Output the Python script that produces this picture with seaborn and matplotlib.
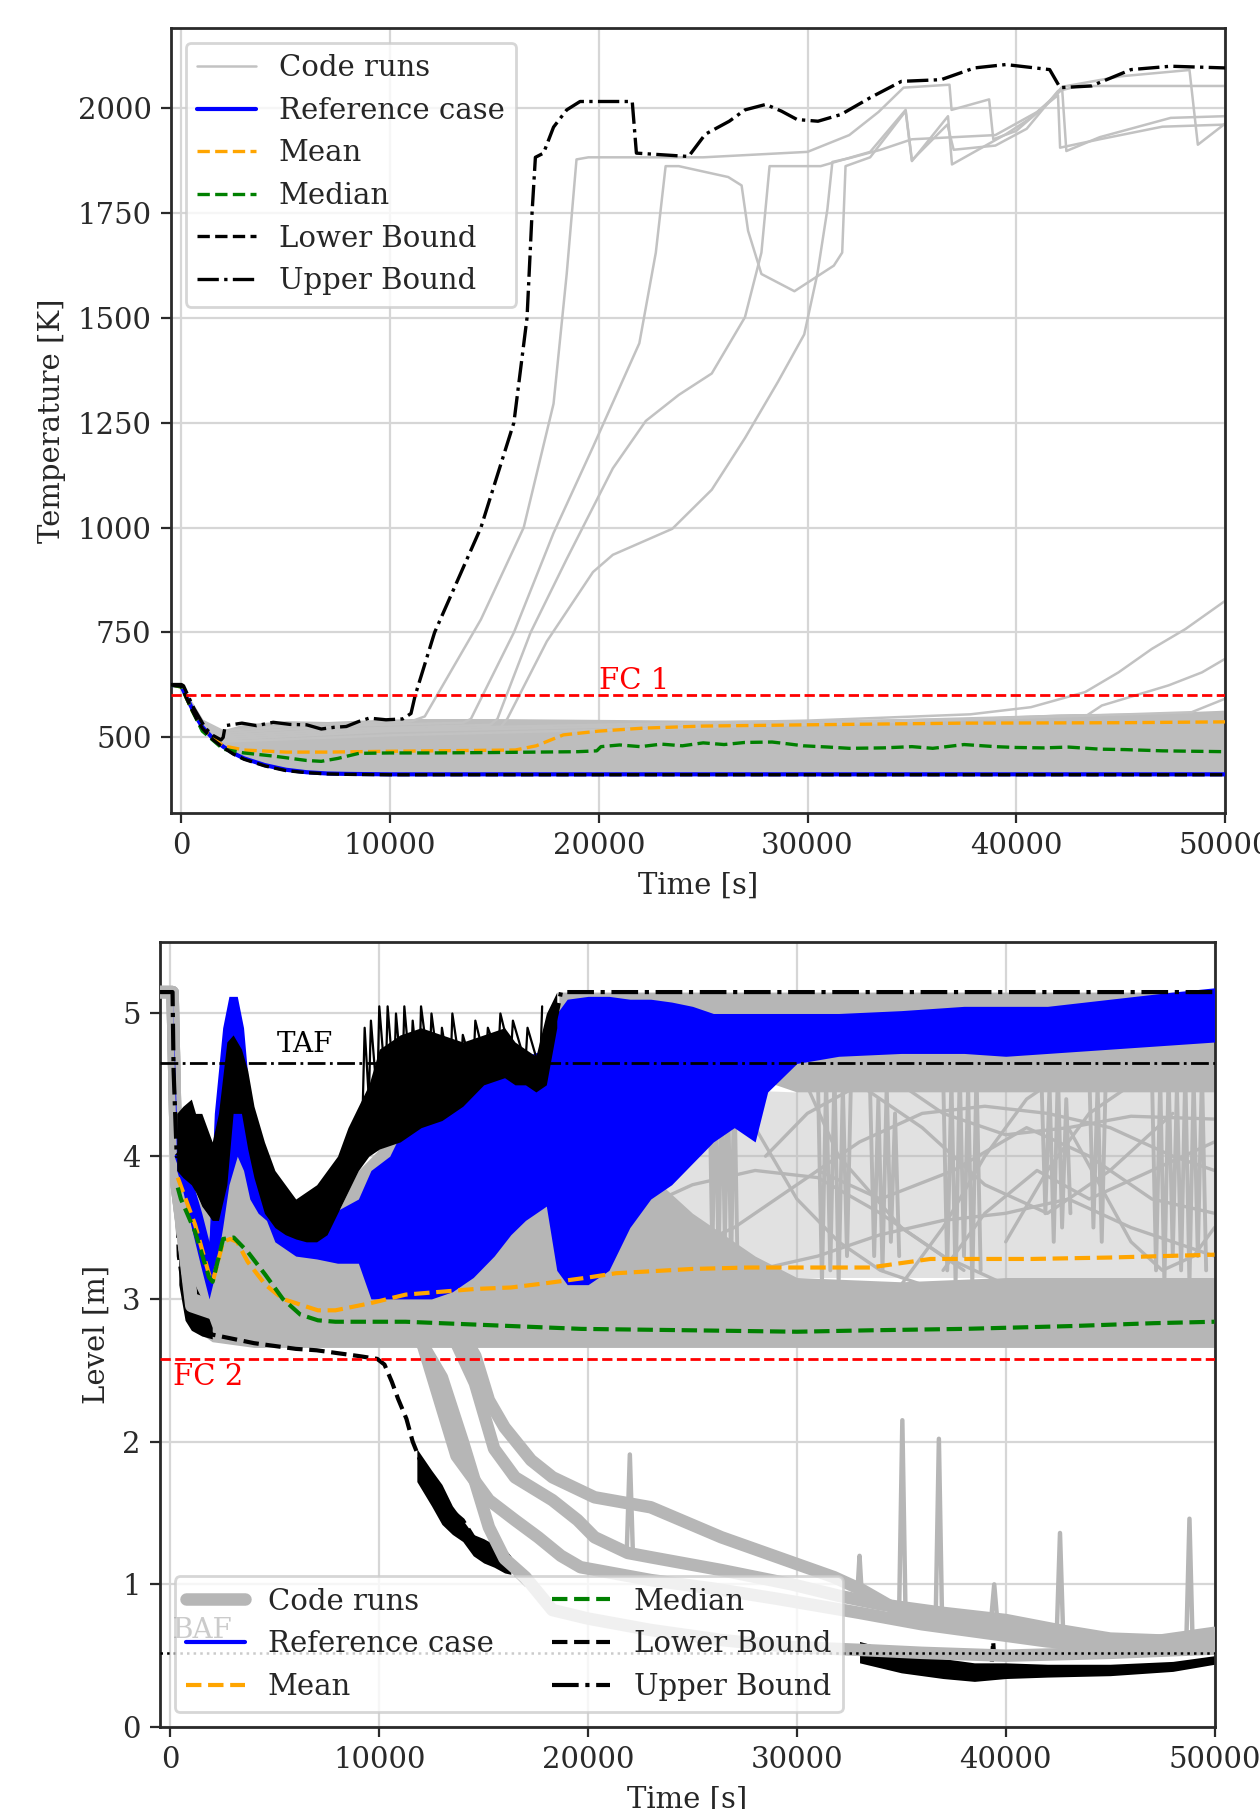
import matplotlib
matplotlib.use("Agg")
import matplotlib.pyplot as plt
import seaborn as sns

# ======================= TOP PANEL: temperature =======================
top_t_ref = [-500, 0, 250, 500, 750, 1000, 1500, 2000, 2500, 3000, 4000, 5000, 6000, 7000, 8000, 10000, 20000, 30000, 40000, 50000]
top_T_ref = [625, 622, 595, 570, 545, 525, 498, 478, 462, 450, 434, 423, 417, 414, 413, 412, 412, 412, 412, 412]
top_T_low = [625, 622, 593, 567, 542, 522, 495, 476, 460, 448, 432, 421, 416, 413, 412, 411, 411, 411, 411, 411]

top_t_up = [-500, 0, 100, 600, 1150, 1500, 1900, 2000, 2100, 2900, 3600, 4400, 5200, 6000, 6700, 7300, 7900, 8500, 9000, 9800,
            10600, 11000, 11200, 12130, 14350, 15930, 16560, 16800, 16960, 17350, 17830, 18460, 19100, 21600, 21800,
            24300, 25100, 26250, 27000, 28000, 28750, 29500, 30500, 31600, 33000, 34500, 36400, 38000, 39500, 41600,
            42100, 43600, 45500, 47400, 50000]
top_T_up = [626, 626, 623, 569, 522, 505, 494, 500, 528, 534, 528, 536, 531, 530, 520, 524, 526, 538, 546, 542,
            544, 557, 600, 750, 1000, 1250, 1500, 1750, 1882, 1892, 1954, 1995, 2015, 2015, 1892,
            1884, 1937, 1968, 1995, 2008, 1992, 1972, 1968, 1984, 2024, 2063, 2067, 2095, 2103, 2091,
            2048, 2052, 2091, 2099, 2095]

top_t_mean = [-500, 0, 500, 1000, 2000, 3000, 5000, 7000, 10000, 14000, 16000, 17000, 18300, 20000, 22100, 25000, 30000, 37500, 45000, 50000]
top_T_mean = [625, 620, 565, 520, 480, 470, 465, 465, 467, 469, 470, 480, 506, 515, 522, 527, 530, 534, 535, 537]

top_t_med = [-500, 0, 500, 1000, 2000, 3000, 4500, 6000, 6700, 7500, 8500, 10000, 12000, 15000, 17000, 19000, 19900, 20100,
             21000, 22000, 23000, 24000, 25000, 26000, 27000, 28300, 29000, 29800, 31000, 32000, 33600, 35000, 36000,
             37500, 39000, 40000, 41300, 42500, 44000, 45200, 47000, 50000]
top_T_med = [625, 620, 565, 515, 472, 463, 455, 445, 443, 450, 462, 463, 463, 464, 465, 466, 468, 478,
             482, 478, 484, 480, 487, 483, 488, 489, 485, 480, 477, 474, 475, 478, 474,
             483, 478, 476, 475, 477, 472, 471, 468, 466]

top_t_band = [-500, 0, 500, 1000, 1500, 2000, 2100, 3000, 5000, 7000, 9000, 11000, 15000, 20000, 25000, 30000, 35000, 38000, 40000, 42000, 45000, 48000, 50000]
top_T_band_lo = [625, 622, 570, 525, 498, 478, 476, 450, 423, 414, 412, 412, 412, 412, 412, 412, 412, 412, 412, 412, 412, 412, 412]
top_T_band_hi = [625, 622, 568, 521, 505, 495, 520, 532, 540, 538, 542, 545, 545, 543, 541, 542, 545, 548, 552, 556, 558, 561, 565]

runA_t = [-500, 0, 1000, 2000, 6000, 11000, 11660, 14350, 16400, 17830, 18460, 18930, 19500, 25000, 30000, 32000, 33400,
          34600, 36800, 36900, 38700, 38900, 40000, 41500, 42200, 45000, 48300, 48700, 50000]
runA_T = [625, 622, 540, 515, 530, 538, 550, 781, 1000, 1295, 1604, 1877, 1882, 1882, 1895, 1935, 1990,
          2048, 2055, 1995, 2020, 1925, 1945, 2010, 2050, 2075, 2090, 1912, 1962]
runB_t = [-500, 0, 1000, 2000, 8000, 13500, 13870, 15930, 17830, 19720, 21940, 22730, 23200, 23830, 26200, 26840, 27150,
          27790, 29370, 31260, 31660, 31820, 33000, 34700, 35000, 36730, 36920, 39500, 40700, 42200, 42400, 44000, 47400, 50000]
runB_T = [625, 622, 535, 510, 528, 535, 544, 750, 987, 1192, 1439, 1655, 1861, 1861, 1835, 1815, 1707,
          1604, 1563, 1624, 1655, 1861, 1882, 1992, 1873, 1980, 1865, 1937, 1976, 2044, 1897, 1930, 1976, 1980]
runC_t = [-500, 0, 1000, 2000, 8000, 14800, 15140, 16730, 18460, 20670, 22250, 23830, 25410, 27000, 27790, 28180, 30630,
          33000, 34700, 35000, 36700, 37000, 39000, 40500, 42000, 43000, 50000]
runC_T = [625, 622, 530, 505, 520, 530, 544, 750, 925, 1141, 1254, 1316, 1367, 1501, 1655, 1861, 1861,
          1895, 1995, 1875, 1960, 1900, 1910, 1950, 2040, 2052, 2052]
runD_t = [-500, 0, 1000, 2000, 8000, 15300, 15610, 17510, 19720, 20670, 23520, 25410, 27000, 28580, 29840, 30470, 30950,
          31190, 32000, 33500, 35000, 37000, 39000, 41000, 42000, 42100, 44000, 47000, 50000]
runD_T = [625, 622, 525, 500, 515, 525, 544, 729, 894, 935, 997, 1090, 1213, 1347, 1460, 1604, 1758,
          1871, 1880, 1900, 1925, 1930, 1935, 1990, 2030, 1905, 1925, 1955, 1960]
runE_t = [-500, 0, 1000, 2000, 10000, 30000, 37800, 40700, 43300, 44900, 46500, 48100, 50000]
runE_T = [625, 622, 530, 500, 520, 540, 555, 572, 608, 655, 711, 758, 825]
runF_t = [-500, 0, 1000, 2000, 10000, 30000, 43400, 44100, 45700, 47300, 48900, 50000]
runF_T = [625, 622, 525, 495, 515, 535, 553, 576, 600, 624, 655, 687]
runG_t = [-500, 0, 1000, 2000, 10000, 30000, 48400, 50000]
runG_T = [625, 622, 520, 490, 505, 530, 560, 592]

top_fc_level = 600
top_xticks = [0, 10000, 20000, 30000, 40000, 50000]
top_yticks = [500, 750, 1000, 1250, 1500, 1750, 2000]

# ======================= BOTTOM PANEL: level =======================
bot_t_g = [-500, 100, 200, 400, 700, 1000, 1500, 2000, 2500, 3000, 3500, 4000, 5000, 6000, 7000, 8000, 9000, 10000,
           12000, 15000, 18000, 18600, 22000, 25000, 28000, 30000, 35000, 40000, 45000, 50000]
bot_g_lo = [5.15, 5.15, 4.3, 3.4, 3.0, 2.85, 2.75, 2.70, 2.69, 2.68, 2.67, 2.66, 2.66, 2.66, 2.66, 2.66, 2.66, 2.66,
            2.66, 2.66, 2.66, 2.66, 2.66, 2.66, 2.66, 2.66, 2.66, 2.66, 2.66, 2.66]
bot_g_hi = [5.15, 5.15, 4.6, 4.0, 3.85, 3.8, 3.65, 3.55, 3.6, 4.1, 4.2, 3.85, 3.5, 3.42, 3.4, 3.6, 3.9, 4.05,
            4.2, 4.5, 4.5, 4.5, 4.0, 3.6, 3.3, 3.15, 3.12, 3.15, 3.15, 3.15]
bot_t_gtop = [18600, 28000, 30000, 50000]
bot_gtop_lo = [4.55, 4.55, 4.45, 4.45]
bot_gtop_hi = [5.15, 5.15, 5.15, 5.15]
bot_t_gmid = [21000, 30000, 50000]
bot_gmid_lo = [3.15, 3.15, 3.15]
bot_gmid_hi = [4.5, 4.45, 4.45]

runP_t = [-500, 100, 300, 1000, 3000, 10000, 14000, 14600, 15250, 16000, 17270, 18300, 20310, 23000, 26380, 29080,
          31780, 33130, 34800, 36500, 39880, 43250, 46630, 50000]
runP_L = [5.15, 5.15, 3.8, 3.0, 2.9, 2.8, 2.75, 2.6, 2.29, 2.1, 1.87, 1.75, 1.61, 1.54, 1.33, 1.19,
          1.05, 0.96, 0.82, 0.77, 0.7, 0.61, 0.59, 0.66]
runQ_t = [-500, 100, 300, 1000, 3000, 10000, 13500, 14580, 15500, 16500, 18290, 19500, 20310, 21900, 23000, 26380,
          29760, 32000, 34000, 37000, 40000, 42500, 45000, 48700, 50000]
runQ_L = [5.15, 5.15, 3.8, 3.0, 2.85, 2.8, 2.75, 2.41, 1.95, 1.75, 1.59, 1.45, 1.33, 1.22, 1.19, 1.1,
          1.0, 0.92, 0.86, 0.8, 0.75, 0.68, 0.62, 0.6, 0.62]
runR_t = [-500, 100, 300, 1000, 3000, 10000, 12000, 12890, 13700, 15250, 16500, 17610, 18700, 19640, 23000, 26000,
          29000, 31000, 33000, 36000, 39000, 42000, 45000, 48000, 50000]
runR_L = [5.15, 5.15, 3.8, 3.0, 2.85, 2.8, 2.72, 2.29, 1.9, 1.59, 1.45, 1.33, 1.2, 1.12, 1.03, 0.97,
          0.9, 0.85, 0.8, 0.72, 0.66, 0.6, 0.57, 0.56, 0.58]
runS_t = [-500, 100, 300, 1000, 3000, 10000, 12000, 13000, 14000, 15250, 16000, 17000, 18290, 20000, 23000, 26380,
          29760, 33130, 36000, 40000, 45000, 50000]
runS_L = [5.15, 5.15, 3.8, 2.95, 2.85, 2.8, 2.7, 2.45, 2.0, 1.4, 1.18, 1.05, 0.82, 0.76, 0.68, 0.61,
          0.56, 0.54, 0.52, 0.5, 0.52, 0.55]

# narrow spikes on the dropping runs
spk_t = [[21850, 22000, 22150], [34900, 35050, 35200], [36650, 36800, 36950], [42450, 42600, 42750],
         [48650, 48800, 48950], [32900, 33000, 33100], [39300, 39450, 39600]]
spk_L = [[1.22, 1.91, 1.2], [0.84, 2.15, 0.82], [0.78, 2.02, 0.77], [0.68, 1.36, 0.66],
         [0.6, 1.46, 0.6], [0.95, 1.2, 0.95], [0.75, 1.0, 0.74]]

sp_t = [
    [22000, 25000, 28000, 31000, 34000, 37000, 40000],
    [24000, 27000, 30000, 33000, 36000, 39000, 42000, 45000, 48000, 50000],
    [26000, 28000, 30000, 32000, 34000, 36000],
    [34000, 37000, 40000, 43000, 46000, 50000],
    [35000, 37000, 39000, 41000, 43000],
    [40000, 42000, 44000, 46000, 48000, 50000],
    [43000, 44500, 46000, 47500, 49000, 50000],
    [28000, 31000, 34000, 37000, 40000, 43000, 46000, 50000],
    [30000, 32000, 35000, 38000],
    [37000, 39000, 41500, 44000, 47000, 50000],
    [28500, 30500, 33000, 36000, 39000, 42000, 45000, 48000],
    [31000, 34000, 37500, 41000, 44000, 47000, 50000],
]
sp_L = [
    [3.6, 3.8, 3.9, 3.85, 3.6, 3.3, 3.1],
    [3.3, 3.5, 3.8, 4.1, 4.3, 4.35, 4.3, 4.2, 4.0, 3.9],
    [4.6, 4.2, 3.7, 3.4, 3.2, 3.1],
    [4.6, 4.3, 4.15, 4.2, 4.28, 4.26],
    [3.1, 3.5, 4.0, 4.4, 4.6],
    [3.4, 3.9, 4.3, 4.5, 4.6, 4.65],
    [4.2, 3.8, 3.4, 3.2, 3.3, 3.5],
    [3.2, 3.3, 3.45, 3.55, 3.6, 3.7, 3.5, 3.3],
    [4.65, 4.0, 3.5, 3.2],
    [3.2, 3.6, 3.9, 3.7, 3.9, 4.1],
    [4.0, 4.3, 4.5, 4.2, 3.8, 3.6, 3.9, 4.3],
    [3.9, 3.7, 3.9, 4.2, 4.0, 3.7, 3.6],
]
st_t = [
    [25800, 25950, 26100, 26250, 26400, 26550, 26700, 26850, 27000, 27150],
    [31000, 31200, 31400, 31600, 31800, 32000, 32200, 32400, 32600],
    [33500, 33700, 33900, 34100, 34300, 34500, 34700, 34900],
    [37000, 37200, 37400, 37600, 37800, 38000, 38200, 38400, 38600, 38800],
    [41700, 41900, 42100, 42300, 42500, 42700, 42900, 43100],
    [44000, 44200, 44400, 44600, 44800],
    [47000, 47200, 47400, 47600, 47800, 48000, 48200, 48400, 48600, 48800, 49000, 49200, 49400, 49600],
]
st_L = [
    [4.6, 3.3, 4.55, 3.2, 4.6, 3.4, 4.5, 3.2, 4.6, 3.3],
    [4.6, 3.1, 4.55, 3.2, 4.6, 3.1, 4.5, 3.3, 4.6],
    [4.5, 3.3, 4.4, 3.2, 4.5, 3.4, 4.3, 3.3],
    [4.6, 3.2, 4.55, 3.1, 4.6, 3.3, 4.5, 3.1, 4.6, 3.2],
    [4.6, 3.6, 4.5, 3.4, 4.6, 3.5, 4.4, 3.6],
    [4.6, 3.5, 4.5, 3.4, 4.6],
    [4.6, 3.2, 4.55, 3.1, 4.6, 3.3, 4.5, 3.2, 4.6, 3.1, 4.55, 3.3, 4.6, 3.2],
]

bot_t_bl = [100, 300, 600, 1000, 1500, 1850, 2100, 2500, 2800, 3200, 3500, 3800, 4200, 4600, 5000, 6000, 7000, 8000,
            9000, 9600, 10500, 11500, 12500, 13500, 14500, 15500, 16300, 17000, 18000, 18500, 19000, 20000, 21000,
            22000, 23000, 24000, 25000, 26000, 27000, 28000, 28600, 30000, 32000, 35000, 38000, 40000, 42000, 45000,
            48000, 50000]
bot_bl_lo = [5.15, 3.9, 3.75, 3.5, 3.2, 3.0, 3.15, 3.5, 3.8, 4.0, 3.9, 3.7, 3.6, 3.55, 3.4, 3.3, 3.28, 3.25,
             3.25, 3.0, 3.0, 3.0, 3.0, 3.05, 3.15, 3.3, 3.45, 3.55, 3.65, 3.2, 3.1, 3.1, 3.2,
             3.5, 3.7, 3.8, 3.95, 4.1, 4.2, 4.1, 4.45, 4.65, 4.7, 4.72, 4.72, 4.7, 4.72, 4.75,
             4.78, 4.8]
bot_bl_hi = [5.15, 4.2, 4.0, 3.85, 3.6, 3.4, 4.3, 4.9, 5.12, 5.12, 4.9, 4.4, 4.0, 3.7, 3.62, 3.6, 3.6, 3.62,
             3.7, 3.9, 4.0, 4.3, 4.45, 4.5, 4.6, 4.7, 4.65, 4.7, 4.75, 5.0, 5.1, 5.12, 5.12,
             5.1, 5.1, 5.08, 5.05, 5.0, 5.0, 5.0, 5.0, 5.0, 5.0, 5.02, 5.05, 5.05, 5.05, 5.1,
             5.15, 5.18]
bot_t_ref = [300, 1000, 1850, 2900, 4000, 6000, 9000, 12000, 16000, 19000, 22000, 26000, 30000, 40000, 50000]
bot_L_ref = [4.0, 3.7, 3.2, 5.0, 3.8, 3.45, 3.45, 3.7, 4.0, 4.2, 4.4, 4.6, 4.85, 4.9, 5.0]

bot_t_ubn = [300, 600, 1000, 1200, 1500, 2000, 2300, 2700, 3000, 3400, 3700, 4000, 4500, 5000, 5500, 6000, 6500, 7000,
             7500, 8000, 8500, 9000, 9500, 10000, 11000, 12000, 13000, 14000, 15000, 16000, 16500, 17000, 17500,
             18000, 18500]
bot_ubn_lo = [3.9, 3.85, 3.8, 3.75, 3.65, 3.55, 3.55, 3.8, 4.3, 4.3, 4.05, 3.85, 3.6, 3.5, 3.45, 3.42, 3.4, 3.4,
              3.45, 3.6, 3.75, 3.9, 4.0, 4.05, 4.1, 4.2, 4.25, 4.35, 4.5, 4.55, 4.5, 4.5, 4.45, 4.5, 4.9]
bot_ubn_hi = [4.3, 4.35, 4.4, 4.3, 4.3, 4.1, 4.3, 4.8, 4.85, 4.75, 4.6, 4.35, 4.1, 3.9, 3.8, 3.7, 3.75, 3.8,
              3.9, 4.0, 4.2, 4.35, 4.5, 4.75, 4.85, 4.9, 4.85, 4.8, 4.85, 4.9, 4.8, 4.75, 4.7, 5.0, 5.15]
bot_t_ub = [-500, 100, 150, 300, 600, 1000, 1500, 2000, 2500, 3000, 3500, 4000, 4500, 5000, 6000, 7000, 8000, 9000,
            10000, 11000, 12000, 13000, 14000, 15000, 16000, 17000, 17600, 18000, 18500, 18700, 50000]
bot_L_ub = [5.15, 5.15, 4.6, 4.0, 4.05, 4.1, 3.9, 3.75, 3.9, 4.5, 4.4, 4.1, 3.85, 3.7, 3.55, 3.5, 3.7, 3.95,
            4.15, 4.3, 4.4, 4.45, 4.5, 4.6, 4.65, 4.62, 4.55, 4.7, 5.0, 5.15, 5.15]
bot_t_spk = [9200, 9300, 9500, 9600, 9900, 10000, 10300, 10400, 10700, 10800, 11100, 11200, 11500, 11600, 11900, 12000,
             12400, 12500, 12900, 13000, 13400, 13500, 13900, 14000, 14500, 14600, 15100, 15200, 15700, 15800, 16300,
             16400, 17000, 17100, 17700, 17800]
bot_L_spk = [4.3, 4.9, 4.4, 4.95, 4.4, 5.05, 4.5, 5.05, 4.5, 5.0, 4.5, 5.05, 4.55, 4.95, 4.5, 5.05,
             4.6, 5.0, 4.55, 4.9, 4.55, 5.0, 4.6, 4.85, 4.6, 4.95, 4.65, 4.9, 4.7, 5.0, 4.7,
             4.95, 4.65, 4.9, 4.6, 5.05]

bot_t_lb = [-500, 100, 200, 400, 700, 1000, 1300, 1600, 2000, 3000, 4000, 5000, 6000, 7000, 8000, 9000, 9900, 10250,
            10600, 10900, 11300, 11600, 12200, 12900, 13600, 14000, 14600, 15500, 16300, 17000, 18300, 20000, 23000,
            26400, 29800, 33100, 33500, 34500, 35500, 36500, 37500, 38500, 39300, 39400, 39500, 40500, 42000, 44000,
            46000, 48000, 50000]
bot_L_lb = [5.15, 5.15, 4.2, 3.3, 3.0, 2.9, 2.85, 2.8, 2.75, 2.72, 2.69, 2.67, 2.65, 2.64, 2.62, 2.6, 2.58, 2.54,
            2.42, 2.3, 2.16, 2.0, 1.78, 1.61, 1.5, 1.45, 1.31, 1.2, 1.1, 1.0, 0.82, 0.75, 0.67,
            0.6, 0.55, 0.53, 0.5, 0.45, 0.42, 0.4, 0.38, 0.36, 0.38, 0.6, 0.37, 0.41, 0.39, 0.39,
            0.39, 0.42, 0.47]
bot_t_lbn1 = [400, 700, 1000, 1500, 2000]
bot_lbn1_lo = [3.1, 2.85, 2.78, 2.74, 2.72]
bot_lbn1_hi = [3.6, 3.3, 3.15, 3.0, 2.8]
bot_t_lbn2 = [11800, 12500, 13000, 13500, 14000, 14500, 15000, 15500, 16000, 16300]
bot_lbn2_lo = [1.72, 1.55, 1.42, 1.35, 1.3, 1.2, 1.15, 1.12, 1.08, 1.07]
bot_lbn2_hi = [1.95, 1.8, 1.7, 1.55, 1.45, 1.35, 1.32, 1.28, 1.25, 1.2]
bot_t_lbn3 = [33000, 35000, 37000, 38500, 40000, 42000, 45000, 48000, 50000]
bot_lbn3_lo = [0.45, 0.38, 0.34, 0.32, 0.34, 0.35, 0.36, 0.39, 0.44]
bot_lbn3_hi = [0.6, 0.52, 0.48, 0.45, 0.45, 0.44, 0.44, 0.46, 0.5]

bot_t_mean = [350, 500, 1180, 1850, 2020, 2520, 2860, 3190, 3700, 4540, 5380, 6220, 7060, 7900, 9580, 11260,
              12940, 14620, 16300, 17980, 20000, 21340, 25000, 27670, 30000, 33500, 36400, 41260, 45000, 50000]
bot_L_mean = [3.85, 3.79, 3.52, 3.17, 3.12, 3.40, 3.42, 3.40, 3.26, 3.10, 3.00, 2.96, 2.92, 2.92, 2.97, 3.03,
              3.05, 3.07, 3.08, 3.11, 3.15, 3.18, 3.21, 3.22, 3.22, 3.22, 3.28, 3.28, 3.29, 3.31]
bot_t_med = [350, 500, 1180, 1850, 2020, 2520, 3030, 3700, 4540, 5380, 6220, 7060, 7900, 11260, 14620,
             19660, 25000, 30000, 33500, 38000, 43200, 47100, 50000]
bot_L_med = [3.78, 3.70, 3.47, 3.15, 3.12, 3.42, 3.43, 3.33, 3.17, 3.00, 2.89, 2.85, 2.84, 2.84, 2.82,
             2.79, 2.78, 2.77, 2.78, 2.79, 2.81, 2.83, 2.84]

bot_taf, bot_baf, bot_fc = 4.65, 0.52, 2.58
bot_xticks = [0, 10000, 20000, 30000, 40000, 50000]
bot_yticks = [0, 1, 2, 3, 4, 5]

legend_labels = ["Code runs", "Reference case", "Mean", "Median", "Lower Bound", "Upper Bound"]

# ======================= STYLE =======================
sns.set_style("ticks")
plt.rcParams["font.family"] = ["DejaVu Serif"]
plt.rcParams.update({
    "font.size": 10.5, "axes.labelsize": 10.5, "xtick.labelsize": 10.5, "ytick.labelsize": 10.5,
    "legend.fontsize": 10.5, "axes.edgecolor": "#2a2a2a", "axes.linewidth": 1.0,
    "xtick.color": "#2a2a2a", "ytick.color": "#2a2a2a",
})

GRAY_T = "#c2c2c2"
GRAY_B = "#b6b6b6"


def line(ax, x, y, **kw):
    sns.lineplot(x=x, y=y, ax=ax, estimator=None, sort=False, legend=False, **kw)
    return ax.lines[-1]


fig = plt.figure(figsize=(6.3, 9.045), dpi=200)
ax1 = fig.add_axes([0.1357, 0.5506, 0.8365, 0.4339])
ax2 = fig.add_axes([0.127, 0.0453, 0.8369, 0.4339])

# ---------------- top ----------------
ax1.fill_between(top_t_band, top_T_band_lo, top_T_band_hi, color="#bdbdbd", lw=0, zorder=1)
h_code = None
for rt, rv in [(runA_t, runA_T), (runB_t, runB_T), (runC_t, runC_T), (runD_t, runD_T),
               (runE_t, runE_T), (runF_t, runF_T), (runG_t, runG_T)]:
    ln = line(ax1, rt, rv, color=GRAY_T, lw=0.9, zorder=2)
    if h_code is None:
        h_code = ln
h_ref = line(ax1, top_t_ref, top_T_ref, color="blue", lw=1.5, zorder=4)
h_mean = line(ax1, top_t_mean, top_T_mean, color="orange", lw=1.2, linestyle="--", zorder=5)
h_med = line(ax1, top_t_med, top_T_med, color="green", lw=1.2, linestyle="--", zorder=5)
h_low = line(ax1, top_t_ref, top_T_low, color="black", lw=1.2, linestyle="--", zorder=6)
h_up = line(ax1, top_t_up, top_T_up, color="black", lw=1.2, linestyle="-.", zorder=6)
ax1.axhline(top_fc_level, color="red", lw=1.0, linestyle="--", zorder=7)
ax1.text(20000, top_fc_level + 2, "FC 1", color="red", fontsize=10.5, ha="left", va="bottom", zorder=7)

ax1.set_xlim(-500, 50000)
ax1.set_ylim(320, 2190)
ax1.set_xticks(top_xticks)
ax1.set_yticks(top_yticks)
ax1.set_xlabel("Time [s]")
ax1.set_ylabel("Temperature [K]")
ax1.grid(True, color="#d6d6d6", lw=0.8)
ax1.set_axisbelow(True)
ax1.legend([h_code, h_ref, h_mean, h_med, h_low, h_up], legend_labels, loc="upper left")

# ---------------- bottom ----------------
ax2.fill_between(bot_t_g, bot_g_lo, bot_g_hi, color=GRAY_B, lw=0, zorder=1)
ax2.fill_between(bot_t_gtop, bot_gtop_lo, bot_gtop_hi, color=GRAY_B, lw=0, zorder=1)
ax2.fill_between(bot_t_gmid, bot_gmid_lo, bot_gmid_hi, color=GRAY_B, alpha=0.4, lw=0, zorder=1)
for rt, rv in zip(sp_t, sp_L):
    line(ax2, rt, rv, color=GRAY_B, lw=1.2, zorder=1.5)
for rt, rv in zip(st_t, st_L):
    line(ax2, rt, rv, color=GRAY_B, lw=1.4, zorder=1.5)
# lower bound below the gray runs
ax2.fill_between(bot_t_lbn1, bot_lbn1_lo, bot_lbn1_hi, color="black", lw=0, zorder=2)
ax2.fill_between(bot_t_lbn2, bot_lbn2_lo, bot_lbn2_hi, color="black", lw=0, zorder=2)
ax2.fill_between(bot_t_lbn3, bot_lbn3_lo, bot_lbn3_hi, color="black", lw=0, zorder=2)
h_low2 = line(ax2, bot_t_lb, bot_L_lb, color="black", lw=1.5, linestyle="--", zorder=2)
h_code2 = None
for rt, rv in [(runP_t, runP_L), (runQ_t, runQ_L), (runR_t, runR_L), (runS_t, runS_L)]:
    ln = line(ax2, rt, rv, color=GRAY_B, lw=4.5, zorder=3)
    if h_code2 is None:
        h_code2 = ln
for rt, rv in zip(spk_t, spk_L):
    line(ax2, rt, rv, color=GRAY_B, lw=1.6, zorder=3)
ax2.fill_between(bot_t_bl, bot_bl_lo, bot_bl_hi, color="blue", lw=0, zorder=4)
h_ref2 = line(ax2, bot_t_ref, bot_L_ref, color="blue", lw=1.5, zorder=4)
ax2.fill_between(bot_t_ubn, bot_ubn_lo, bot_ubn_hi, color="black", lw=0, zorder=5)
line(ax2, bot_t_spk, bot_L_spk, color="black", lw=0.8, zorder=5)
h_up2 = line(ax2, bot_t_ub, bot_L_ub, color="black", lw=1.5, linestyle="-.", zorder=5)
h_mean2 = line(ax2, bot_t_mean, bot_L_mean, color="orange", lw=1.5, linestyle="--", zorder=6)
h_med2 = line(ax2, bot_t_med, bot_L_med, color="green", lw=1.5, linestyle="--", zorder=6)

ax2.axhline(bot_taf, color="black", lw=1.0, linestyle="-.", zorder=5)
ax2.axhline(bot_fc, color="red", lw=1.0, linestyle="--", zorder=7)
ax2.axhline(bot_baf, color="black", lw=0.9, linestyle=":", zorder=7)
ax2.text(5100, bot_taf + 0.04, "TAF", color="black", fontsize=10, ha="left", va="bottom", zorder=7)
ax2.text(100, bot_fc - 0.03, "FC 2", color="red", fontsize=10.5, ha="left", va="top", zorder=7)
ax2.text(100, bot_baf + 0.06, "BAF", color="black", fontsize=10, ha="left", va="bottom", zorder=7)

ax2.set_xlim(-500, 50000)
ax2.set_ylim(0, 5.5)
ax2.set_xticks(bot_xticks)
ax2.set_yticks(bot_yticks)
ax2.set_xlabel("Time [s]")
ax2.set_ylabel("Level [m]")
ax2.grid(True, color="#d6d6d6", lw=0.8)
ax2.set_axisbelow(True)
leg2 = ax2.legend([h_code2, h_ref2, h_mean2, h_med2, h_low2, h_up2], legend_labels, loc="lower left", ncol=2)
leg2.set_zorder(10)

fig.savefig("out.png", dpi=200)
